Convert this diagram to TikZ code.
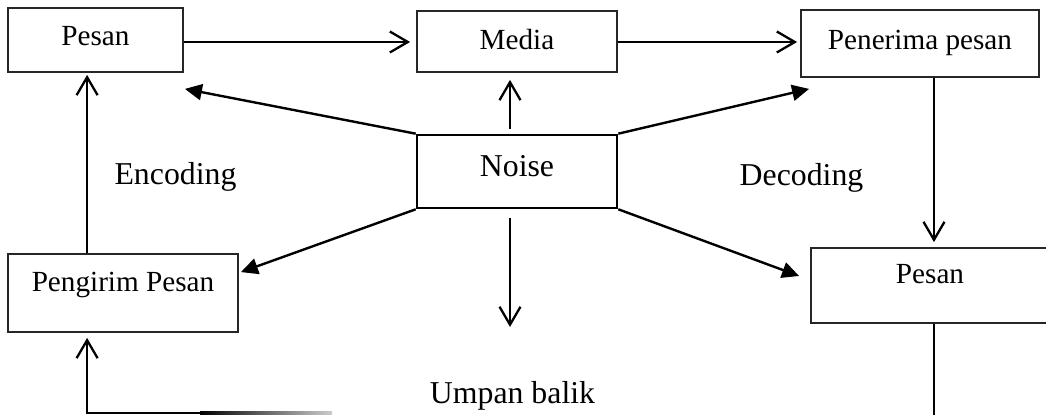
\documentclass[tikz,border=0pt]{standalone}
\usepackage{fontspec}
\setmainfont{Liberation Serif}
\usetikzlibrary{arrows.meta,calc}
\begin{document}
\begin{tikzpicture}[x=0.5pt,y=-0.5pt,
  box/.style={draw=black!85,line width=0.9pt,rectangle,inner sep=0pt,font=\fontsize{14.6}{17}\selectfont,text height=10pt},
  bigbox/.style={draw=black,line width=1.3pt,rectangle,inner sep=0pt,font=\fontsize{15.9}{19}\selectfont,text height=11pt},
  lbl/.style={anchor=base,inner sep=0pt,font=\fontsize{15.9}{19}\selectfont},
  openarr/.style={line width=1.15pt,-{Straight Barb[length=9pt,width=10.5pt,line width=1.15pt]}},
  filledarr/.style={line width=1.2pt,-{Triangle[length=8.5pt,width=8pt]}},
  plainline/.style={line width=1.15pt}
]
\clip (0,0) rectangle (1046,415);
\fill[white] (0,0) rectangle (1046,415);

\node[box,minimum width=87.5pt,minimum height=32pt,text depth=4pt] (pesanA) at (95.5,40) {Pesan};
\node[box,minimum width=100pt,minimum height=30.5pt,text depth=1.5pt] (media) at (517,41.5) {Media};
\node[box,minimum width=119pt,minimum height=33.5pt,text depth=3.5pt] (penerima) at (920,43.5) {Penerima pesan};
\node[bigbox,minimum width=100pt,minimum height=36.5pt,text depth=5.5pt] (noise) at (517,171.5) {Noise};
\node[box,minimum width=115pt,minimum height=39pt,text depth=11pt] (pengirim) at (123,293) {Pengirim Pesan};
\node[box,minimum width=119pt,minimum height=37.5pt,text depth=11.5pt] (pesanB) at (930,285.5) {Pesan};

\node[lbl] (enc) at (175.5,185) {Encoding};
\node[lbl] (dec) at (801.5,186) {Decoding};
\node[lbl] (ub) at (512.5,404) {Umpan balik};

\coordinate (downend) at (510,327);
\coordinate (pbend) at (934,425);
\coordinate (fbfade) at (200,413);
\coordinate (fbend) at (332,413);

\draw[openarr] ($(pesanA.east)+(0,2)$) -- ($(media.west)+(-6,0.5)$);
\draw[openarr] ($(media.east)+(0,0.5)$) -- ($(penerima.west)+(-3,-1.5)$);
\draw[openarr] ($(noise.north)+(-7,-5)$) -- ($(media.south)+(-7,7)$);
\draw[filledarr] (noise.north west) -- ($(pesanA.south east)+(1,16)$);
\draw[filledarr] (noise.north east) -- ($(penerima.south west)+(9,11)$);
\draw[filledarr] (noise.south west) -- ($(pengirim.north east)+(2,19)$);
\draw[filledarr] (noise.south east) -- ($(pesanB.west)+(-11,-9.5)$);
\draw[openarr] ($(noise.south)+(-7,9)$) -- (downend);
\draw[openarr] ($(pengirim.north west)+(80,0)$) -- ($(pesanA.south west)+(80,2)$);
\draw[openarr] ($(penerima.south)+(14,0)$) -- ($(pesanB.north)+(4,-5)$);
\draw[plainline] ($(pesanB.south)+(4,0)$) -- (pbend);
\draw[openarr] (fbfade) -| ($(pengirim.south west)+(80,5)$);
\shade[left color=black,right color=black!20] ($(fbfade)+(0,-1.15)$) rectangle ($(fbend)+(0,1.15)$);
\end{tikzpicture}
\end{document}
